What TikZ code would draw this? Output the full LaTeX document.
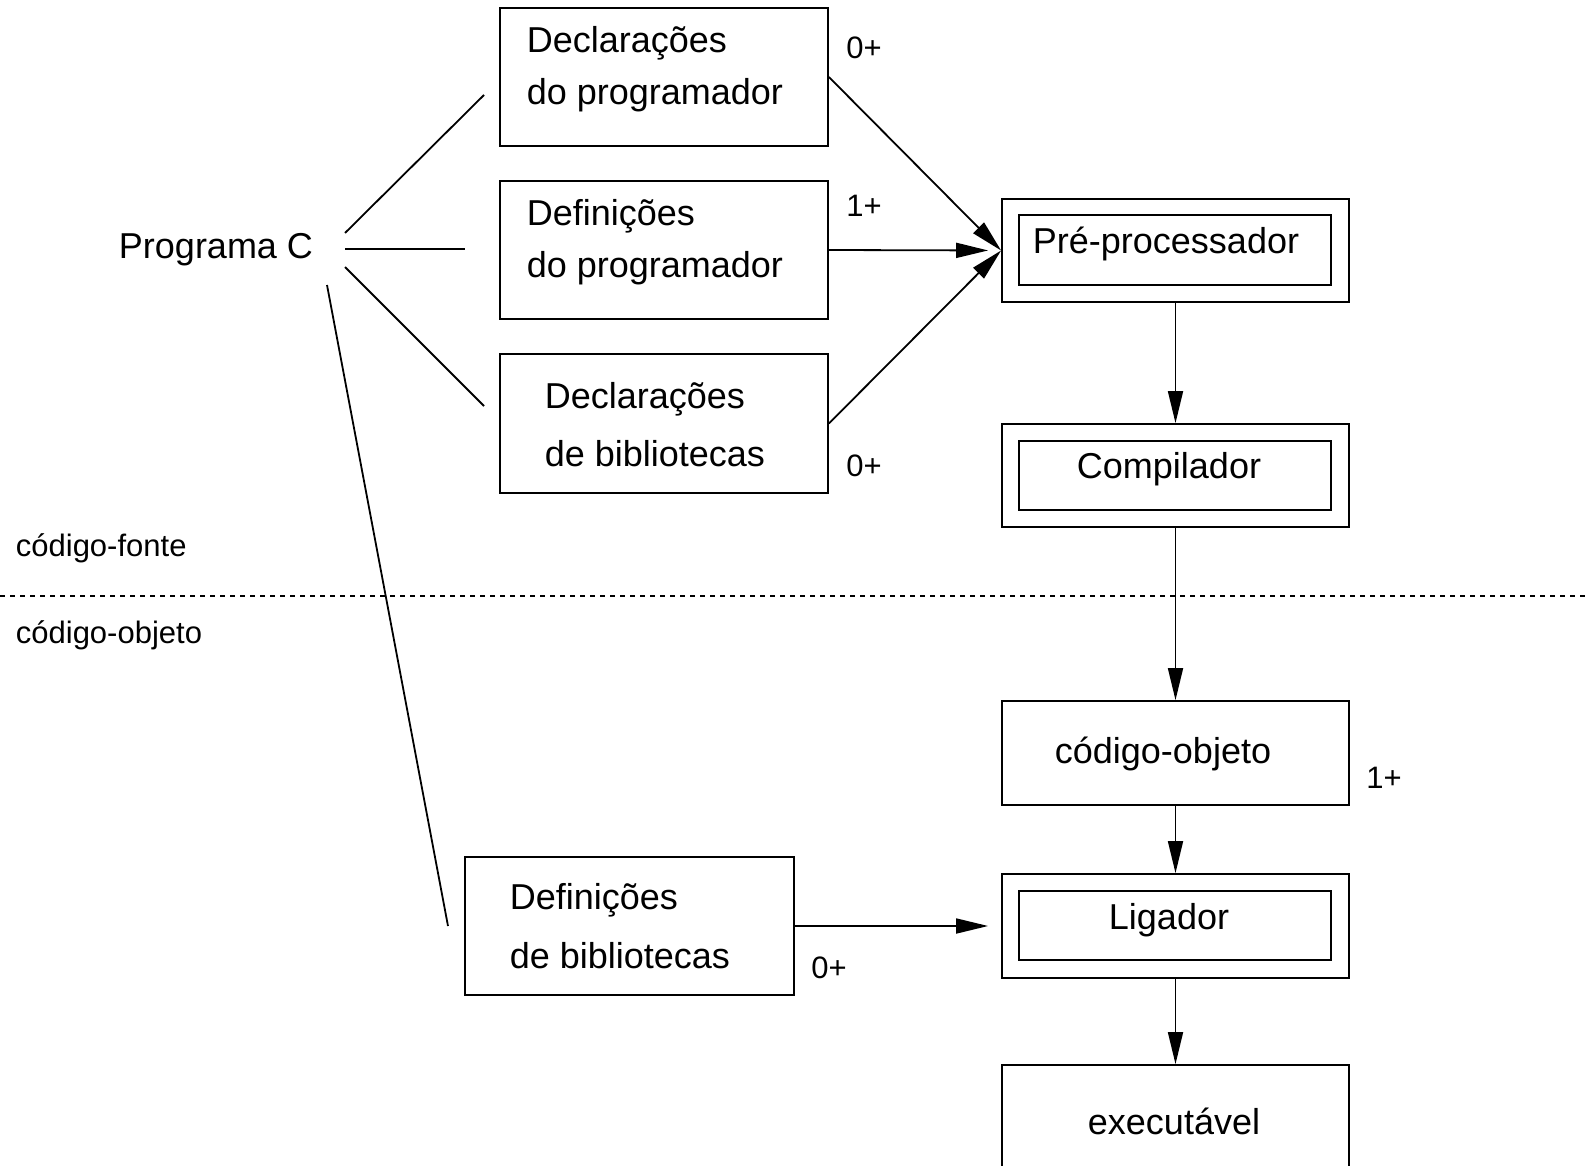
\documentclass[tikz,border=0pt]{standalone}
\usepackage{fontspec}
\setmainfont{Liberation Sans}
\usetikzlibrary{arrows.meta}
\begin{document}
\begin{tikzpicture}[x=1pt,y=-1pt,
  line width=1.8pt,
  box/.style={draw,line width=1.8pt,inner sep=0pt},
  arr/.style={-{Triangle[length=32pt,width=15pt]}},
  big/.style={font=\fontsize{36}{43}\selectfont,inner sep=0pt},
  small/.style={font=\fontsize{31}{37}\selectfont,inner sep=0pt}]
\clip (0,0) rectangle (1590,1166);
\fill[white] (0,0) rectangle (1590,1166);

% left boxes
\node[box,minimum width=328pt,minimum height=138pt] (dp) at (664,77) {};
\node[box,minimum width=328pt,minimum height=138pt] (fp) at (664,250) {};
\node[box,minimum width=328pt,minimum height=139pt] (db) at (664,423.5) {};
\node[box,minimum width=329pt,minimum height=138pt] (fb) at (629.5,926) {};

\node[big,anchor=base west] (dpa) at (526,53) {Declarações};
\node[big,anchor=base west] (dpb) at (526,105) {do programador};
\node[big,anchor=base west] (fpa) at (526,226) {Definições};
\node[big,anchor=base west] (fpb) at (526,278) {do programador};
\node[big,anchor=base west] (dba) at (544,408) {Declarações};
\node[big,anchor=base west] (dbb) at (544,466) {de bibliotecas};
\node[big,anchor=base west] (fba) at (509,909) {Definições};
\node[big,anchor=base west] (fbb) at (509,968) {de bibliotecas};

% right column
\node[box,minimum width=347pt,minimum height=103pt] (pre) at (1175.5,250.5) {};
\node[box,minimum width=312pt,minimum height=70pt] (prei) at (1175,250) {};
\node[box,minimum width=347pt,minimum height=103pt] (comp) at (1175.5,475.5) {};
\node[box,minimum width=312pt,minimum height=69pt] (compi) at (1175,475.5) {};
\node[box,minimum width=347pt,minimum height=104pt] (obj) at (1175.5,753) {};
\node[box,minimum width=347pt,minimum height=104pt] (lig) at (1175.5,926) {};
\node[box,minimum width=312pt,minimum height=69pt] (ligi) at (1175,925.5) {};
\node[box,minimum width=347pt,minimum height=150pt] (exe) at (1175.5,1140) {};

\node[big,anchor=base] (pret) at (1166,254) {Pré-processador};
\node[big,anchor=base] (compt) at (1169,478) {Compilador};
\node[big,anchor=base] (objt) at (1163,763) {código-objeto};
\node[big,anchor=base] (ligt) at (1169,929) {Ligador};
\node[big,anchor=base] (exet) at (1174,1134) {executável};

% Programa C
\node[big,anchor=base] (prog) at (216,259) {Programa C};
\coordinate (p1s) at (345,233); \coordinate (p1e) at (484,95);
\coordinate (p2s) at (345,249); \coordinate (p2e) at (465,249);
\coordinate (p3s) at (345,267); \coordinate (p3e) at (484,406);
\coordinate (p4s) at (327,285); \coordinate (p4e) at (448,926);
\draw (p1s) -- (p1e);
\draw (p2s) -- (p2e);
\draw (p3s) -- (p3e);
\draw (p4s) -- (p4e);

% separator
\coordinate (sl) at (0,596); \coordinate (sr) at (1590,596);
\draw[dash pattern=on 5pt off 5pt] (sl) -- (sr);
\node[small,anchor=base west] (cf) at (15,556) {código-fonte};
\node[small,anchor=base west] (co) at (15,643) {código-objeto};

% arrows
\draw[arr] (dp.east) -- (pre.west);
\draw[arr,shorten >=13pt] (fp.east) -- (pre.west);
\draw[arr] (db.east) -- (pre.west);
\draw[arr] (pre.south) -- (comp.north);
\draw[arr] (comp.south) -- (obj.north);
\draw[arr] (obj.south) -- (lig.north);
\draw[arr] (lig.south) -- (exe.north);
\draw[arr,shorten >=13pt] (fb.east) -- (lig.west);

% multiplicities
\node[small,anchor=base] (m1) at (864,59) {0+};
\node[small,anchor=base] (m2) at (864,217) {1+};
\node[small,anchor=base] (m3) at (864,476) {0+};
\node[small,anchor=base] (m4) at (1384,788) {1+};
\node[small,anchor=base] (m5) at (829,978) {0+};
\end{tikzpicture}
\end{document}
